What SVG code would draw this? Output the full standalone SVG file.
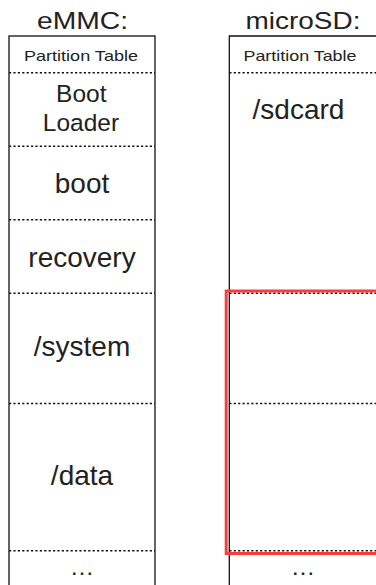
<svg xmlns="http://www.w3.org/2000/svg" width="376" height="585" viewBox="0 0 376 585">
  <style>
    .lbl { font-family: "Liberation Sans", Arial, Helvetica, sans-serif; fill: #222; text-anchor: middle; }
    .title { font-size: 24px; }
    .big { font-size: 28px; }
    .mid { font-size: 24.5px; }
    .small { font-size: 15px; }
    .frame { fill: none; stroke: #111; stroke-width: 1.3; }
    .sep { stroke: #111; stroke-width: 1.4; stroke-dasharray: 2.2 2.2; }
    .hl { fill: none; stroke: #ff3b3b; stroke-width: 3; }
  </style>
  <rect width="376" height="585" fill="#fff"/>

  <!-- eMMC partition column -->
  <g id="emmc">
    <text class="lbl title" x="82.5" y="29" textLength="91" lengthAdjust="spacingAndGlyphs">eMMC:</text>
    <rect class="frame" x="9" y="36" width="146" height="560"/>
    <line class="sep" x1="9" y1="72.7" x2="155" y2="72.7"/>
    <line class="sep" x1="9" y1="146.2" x2="155" y2="146.2"/>
    <line class="sep" x1="9" y1="219.8" x2="155" y2="219.8"/>
    <line class="sep" x1="9" y1="293.3" x2="155" y2="293.3"/>
    <line class="sep" x1="9" y1="403.5" x2="155" y2="403.5"/>
    <line class="sep" x1="9" y1="550.7" x2="155" y2="550.7"/>
    <text class="lbl small" x="81" y="60.5" textLength="114" lengthAdjust="spacingAndGlyphs">Partition Table</text>
    <text class="lbl mid" x="81.3" y="101.5">Boot</text>
    <text class="lbl mid" x="81" y="130.5">Loader</text>
    <text class="lbl big" x="82" y="193">boot</text>
    <text class="lbl big" x="82" y="266.5">recovery</text>
    <text class="lbl big" x="82" y="356">/system</text>
    <text class="lbl big" x="82" y="485">/data</text>
    <text class="lbl mid" x="82" y="575">…</text>
  </g>

  <!-- microSD partition column -->
  <g id="microsd">
    <text class="lbl title" x="303" y="29" textLength="115" lengthAdjust="spacingAndGlyphs">microSD:</text>
    <path class="frame" d="M380 36 H229.3 V590"/>
    <line class="sep" x1="229.3" y1="72.7" x2="376" y2="72.7"/>
    <line class="sep" x1="229.3" y1="293.3" x2="376" y2="293.3"/>
    <line class="sep" x1="229.3" y1="403.5" x2="376" y2="403.5"/>
    <line class="sep" x1="229.3" y1="550.7" x2="376" y2="550.7"/>
    <text class="lbl small" x="300" y="60.5" textLength="113" lengthAdjust="spacingAndGlyphs">Partition Table</text>
    <text class="lbl big" x="298.5" y="118.5">/sdcard</text>
    <text class="lbl mid" x="303" y="575">…</text>
  </g>

  <!-- highlighted region -->
  <g id="highlight">
    <path class="hl" d="M380 291 H226.2 V553.5 H380"/>
  </g>
</svg>
